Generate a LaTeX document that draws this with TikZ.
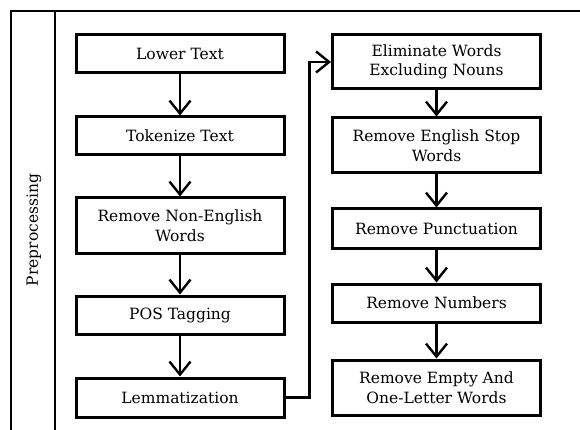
\documentclass[tikz,border=0pt]{standalone}
\usepackage{fontspec}
\setmainfont{DejaVu Serif}
\usetikzlibrary{arrows.meta}
\tikzset{
  stepbox/.style={draw,line width=3pt,minimum width=208pt,align=center,inner sep=2pt,font=\fontsize{15.5}{19.5}\selectfont},
  flow/.style={line width=2.4pt,-{Straight Barb[length=13pt,width=21pt,line width=2.4pt]}}
}
\begin{document}
\begin{tikzpicture}[x=1pt,y=-1pt]
\useasboundingbox(0,0)rectangle(580,430);
\clip(0,0)rectangle(580,430);
\fill[white](0,0)rectangle(580,430);
\draw[line width=2.8pt](600,11)--(11,11)--(11,450);
\draw[line width=2.8pt](55,11)--(55,450);
\node[rotate=90,font=\fontsize{15.5}{19.5}\selectfont](pre)at(34,230){Preprocessing};
\node[stepbox,minimum height=38pt](lower)at(180,54){Lower Text};
\node[stepbox,minimum height=38pt](token)at(180,136){Tokenize Text};
\node[stepbox,minimum height=55pt](nonen)at(180,225.5){Remove Non-English\\Words};
\node[stepbox,minimum height=38pt](pos)at(180,315){POS Tagging};
\node[stepbox,minimum height=39pt](lemma)at(180,397.5){Lemmatization};
\node[stepbox,minimum height=54pt](elim)at(436.5,62){Eliminate Words\\Excluding Nouns};
\node[stepbox,minimum height=55pt](stop)at(436.5,145.5){Remove English Stop\\Words};
\node[stepbox,minimum height=39pt](punct)at(436.5,228.5){Remove Punctuation};
\node[stepbox,minimum height=38pt](numb)at(436.5,303){Remove Numbers};
\node[stepbox,minimum height=55pt](empty)at(436.5,387.5){Remove Empty And\\One-Letter Words};
\draw[flow](lower)--(token);
\draw[flow](token)--(nonen);
\draw[flow](nonen)--(pos);
\draw[flow](pos)--(lemma);
\draw[flow](lemma.east)--++(24,0)|-(elim.west);
\draw[flow](elim)--(stop);
\draw[flow](stop)--(punct);
\draw[flow](punct)--(numb);
\draw[flow](numb)--(empty);
\end{tikzpicture}
\end{document}
